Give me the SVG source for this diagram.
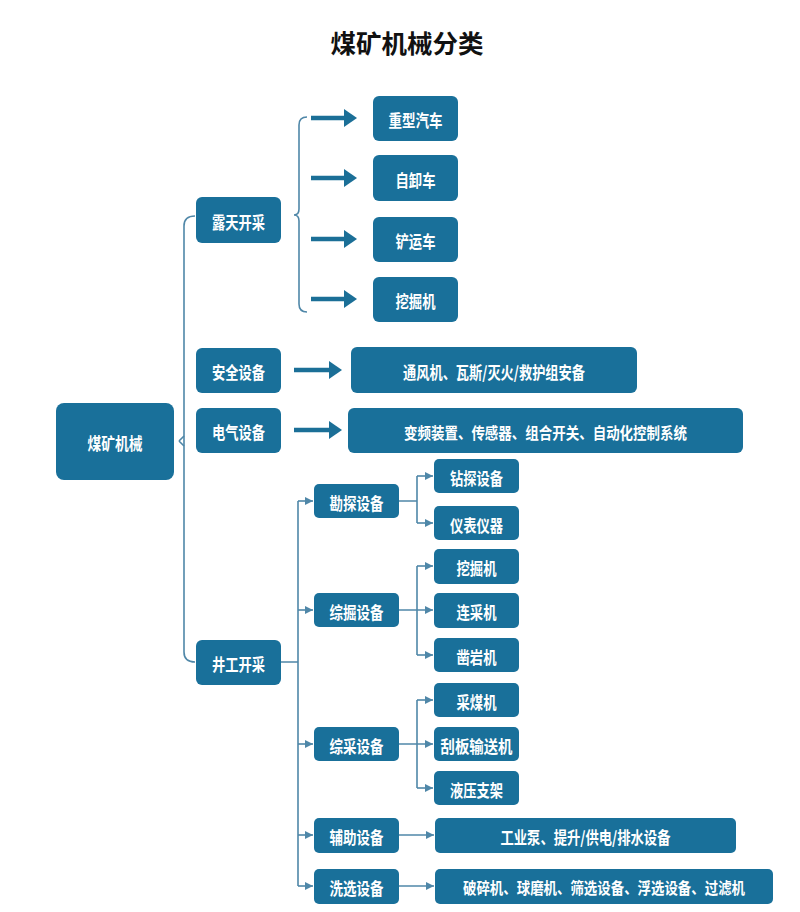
<svg xmlns="http://www.w3.org/2000/svg" width="800" height="912" viewBox="0 0 800 912">
<defs>
<style>
.box{fill:#19709a}
.t{fill:#ffffff;font-family:"Noto Sans CJK SC","Noto Sans",sans-serif;font-weight:bold;font-size:17px;text-anchor:middle;dominant-baseline:central}
.s16{font-size:16px}
.title{fill:#111111;font-family:"Noto Sans CJK SC",sans-serif;font-weight:bold;font-size:25px;text-anchor:middle;dominant-baseline:central}
.ln{fill:none;stroke:#4f87a8;stroke-width:1.6}
.sa{fill:none;stroke:#4f87a8;stroke-width:1.6;marker-end:url(#small)}
.big{fill:none;stroke:#1b6f97;stroke-width:4.5;marker-end:url(#bighead)}
</style>
<marker id="bighead" markerUnits="userSpaceOnUse" markerWidth="14" markerHeight="18" refX="0" refY="9" orient="auto">
<path d="M0,0 L13,9 L0,18 Z" fill="#1b6f97"/>
</marker>
<marker id="small" markerUnits="userSpaceOnUse" markerWidth="9" markerHeight="9" refX="8" refY="4" orient="auto">
<path d="M0,0 L8,4 L0,8 Z" fill="#4f87a8"/>
</marker>
</defs>
<rect width="800" height="912" fill="#ffffff"/>
<text class="title" x="407" y="42" textLength="153" lengthAdjust="spacingAndGlyphs">煤矿机械分类</text>

<g id="connectors">
<path class="ln" d="M195,216 Q184,216 184,226 L184,652 Q184,662 195,662"/>
<path class="ln" d="M179,441 L184,436 M179,441 L184,446"/>
<path class="ln" d="M307,117 Q299,117 299,125 L299,209 Q299,215 294,215 Q299,215 299,221 L299,304 Q299,312 307,312"/>
<line class="big" x1="311" y1="118" x2="344" y2="118"/>
<line class="big" x1="311" y1="178" x2="344" y2="178"/>
<line class="big" x1="311" y1="239" x2="344" y2="239"/>
<line class="big" x1="311" y1="299" x2="344" y2="299"/>
<line class="big" x1="294" y1="370" x2="329" y2="370"/>
<line class="big" x1="294" y1="430" x2="329" y2="430"/>
<path class="ln" d="M281,662 L298,662 M298,501 L298,886"/>
<path class="sa" d="M298,501 L313,501"/>
<path class="sa" d="M298,610 L313,610"/>
<path class="sa" d="M298,744 L313,744"/>
<path class="sa" d="M298,835 L313,835"/>
<path class="sa" d="M298,886 L313,886"/>
<path class="ln" d="M399,501 L417,501 M417,476 L417,523"/>
<path class="sa" d="M417,476 L433,476"/>
<path class="sa" d="M417,523 L433,523"/>
<path class="ln" d="M417,566 L417,655"/>
<path class="sa" d="M399,610 L433,610"/>
<path class="sa" d="M417,566 L433,566"/>
<path class="sa" d="M417,655 L433,655"/>
<path class="ln" d="M417,700 L417,788"/>
<path class="sa" d="M399,744 L433,744"/>
<path class="sa" d="M417,700 L433,700"/>
<path class="sa" d="M417,788 L433,788"/>
<path class="sa" d="M399,835 L434,835"/>
<path class="sa" d="M399,886 L434,886"/>
</g>

<g id="root"><rect class="box" x="56" y="403" width="118" height="77" rx="8"/><text class="t" x="115" y="442" textLength="55" lengthAdjust="spacingAndGlyphs">煤矿机械</text></g>
<g id="lutian"><rect class="box" x="196" y="197" width="85" height="46" rx="6"/><text class="t" x="238.5" y="221" textLength="53" lengthAdjust="spacingAndGlyphs">露天开采</text></g>
<g id="zhongxing"><rect class="box" x="373" y="96" width="85" height="45" rx="6"/><text class="t" x="415.5" y="119.5" textLength="54" lengthAdjust="spacingAndGlyphs">重型汽车</text></g>
<g id="zixie"><rect class="box" x="373" y="155" width="85" height="46" rx="6"/><text class="t" x="415.5" y="179" textLength="40" lengthAdjust="spacingAndGlyphs">自卸车</text></g>
<g id="chanyun"><rect class="box" x="373" y="217" width="85" height="45" rx="6"/><text class="t" x="415.5" y="240.5" textLength="40" lengthAdjust="spacingAndGlyphs">铲运车</text></g>
<g id="wajue1"><rect class="box" x="373" y="277" width="85" height="45" rx="6"/><text class="t" x="415.5" y="300.5" textLength="40" lengthAdjust="spacingAndGlyphs">挖掘机</text></g>
<g id="anquan"><rect class="box" x="196" y="348" width="85" height="45" rx="6"/><text class="t" x="238.5" y="371.5" textLength="53" lengthAdjust="spacingAndGlyphs">安全设备</text></g>
<g id="anquan_d"><rect class="box" x="351" y="347" width="286" height="46" rx="6"/><text class="t" x="494" y="371" textLength="182" lengthAdjust="spacingAndGlyphs">通风机、瓦斯/灭火/救护组安备</text></g>
<g id="dianqi"><rect class="box" x="196" y="408" width="85" height="45" rx="6"/><text class="t" x="238.5" y="431.5" textLength="53" lengthAdjust="spacingAndGlyphs">电气设备</text></g>
<g id="dianqi_d"><rect class="box" x="348" y="408" width="395" height="45" rx="6"/><text class="t s16" x="545.5" y="431.5" textLength="283" lengthAdjust="spacingAndGlyphs">变频装置、传感器、组合开关、自动化控制系统</text></g>
<g id="jinggong"><rect class="box" x="196" y="640" width="85" height="45" rx="6"/><text class="t" x="238.5" y="663.5" textLength="53" lengthAdjust="spacingAndGlyphs">井工开采</text></g>
<g id="kantan"><rect class="box" x="314" y="484" width="85" height="34" rx="5"/><text class="t" x="356.5" y="502" textLength="54" lengthAdjust="spacingAndGlyphs">勘探设备</text></g>
<g id="zuantan"><rect class="box" x="434" y="459" width="85" height="34" rx="5"/><text class="t" x="476.5" y="477" textLength="53" lengthAdjust="spacingAndGlyphs">钻探设备</text></g>
<g id="yibiao"><rect class="box" x="434" y="506" width="85" height="34" rx="5"/><text class="t" x="476.5" y="524" textLength="53" lengthAdjust="spacingAndGlyphs">仪表仪器</text></g>
<g id="zongjue"><rect class="box" x="314" y="593" width="85" height="34" rx="5"/><text class="t" x="356.5" y="611" textLength="54" lengthAdjust="spacingAndGlyphs">综掘设备</text></g>
<g id="wajue2"><rect class="box" x="434" y="549" width="85" height="35" rx="5"/><text class="t" x="476.5" y="567" textLength="40" lengthAdjust="spacingAndGlyphs">挖掘机</text></g>
<g id="liancai"><rect class="box" x="434" y="593" width="85" height="35" rx="5"/><text class="t" x="476.5" y="611" textLength="40" lengthAdjust="spacingAndGlyphs">连采机</text></g>
<g id="zaoyan"><rect class="box" x="434" y="638" width="85" height="34" rx="5"/><text class="t" x="476.5" y="656" textLength="40" lengthAdjust="spacingAndGlyphs">凿岩机</text></g>
<g id="zongcai"><rect class="box" x="314" y="727" width="85" height="34" rx="5"/><text class="t" x="356.5" y="745" textLength="54" lengthAdjust="spacingAndGlyphs">综采设备</text></g>
<g id="caimei"><rect class="box" x="434" y="683" width="85" height="34" rx="5"/><text class="t" x="476.5" y="701" textLength="40" lengthAdjust="spacingAndGlyphs">采煤机</text></g>
<g id="guaban"><rect class="box" x="434" y="727" width="85" height="34" rx="5"/><text class="t" x="476.5" y="745" textLength="72" lengthAdjust="spacingAndGlyphs">刮板输送机</text></g>
<g id="yeya"><rect class="box" x="434" y="771" width="85" height="34" rx="5"/><text class="t" x="476.5" y="789" textLength="53" lengthAdjust="spacingAndGlyphs">液压支架</text></g>
<g id="fuzhu"><rect class="box" x="314" y="818" width="85" height="35" rx="5"/><text class="t" x="356.5" y="836" textLength="54" lengthAdjust="spacingAndGlyphs">辅助设备</text></g>
<g id="fuzhu_d"><rect class="box" x="435" y="818" width="301" height="35" rx="5"/><text class="t" x="585.5" y="836" textLength="170" lengthAdjust="spacingAndGlyphs">工业泵、提升/供电/排水设备</text></g>
<g id="xixuan"><rect class="box" x="314" y="869" width="85" height="35" rx="5"/><text class="t" x="356.5" y="887" textLength="54" lengthAdjust="spacingAndGlyphs">洗选设备</text></g>
<g id="xixuan_d"><rect class="box" x="435" y="869" width="338" height="35" rx="5"/><text class="t s16" x="604" y="887" textLength="282" lengthAdjust="spacingAndGlyphs">破碎机、球磨机、筛选设备、浮选设备、过滤机</text></g>
</svg>
